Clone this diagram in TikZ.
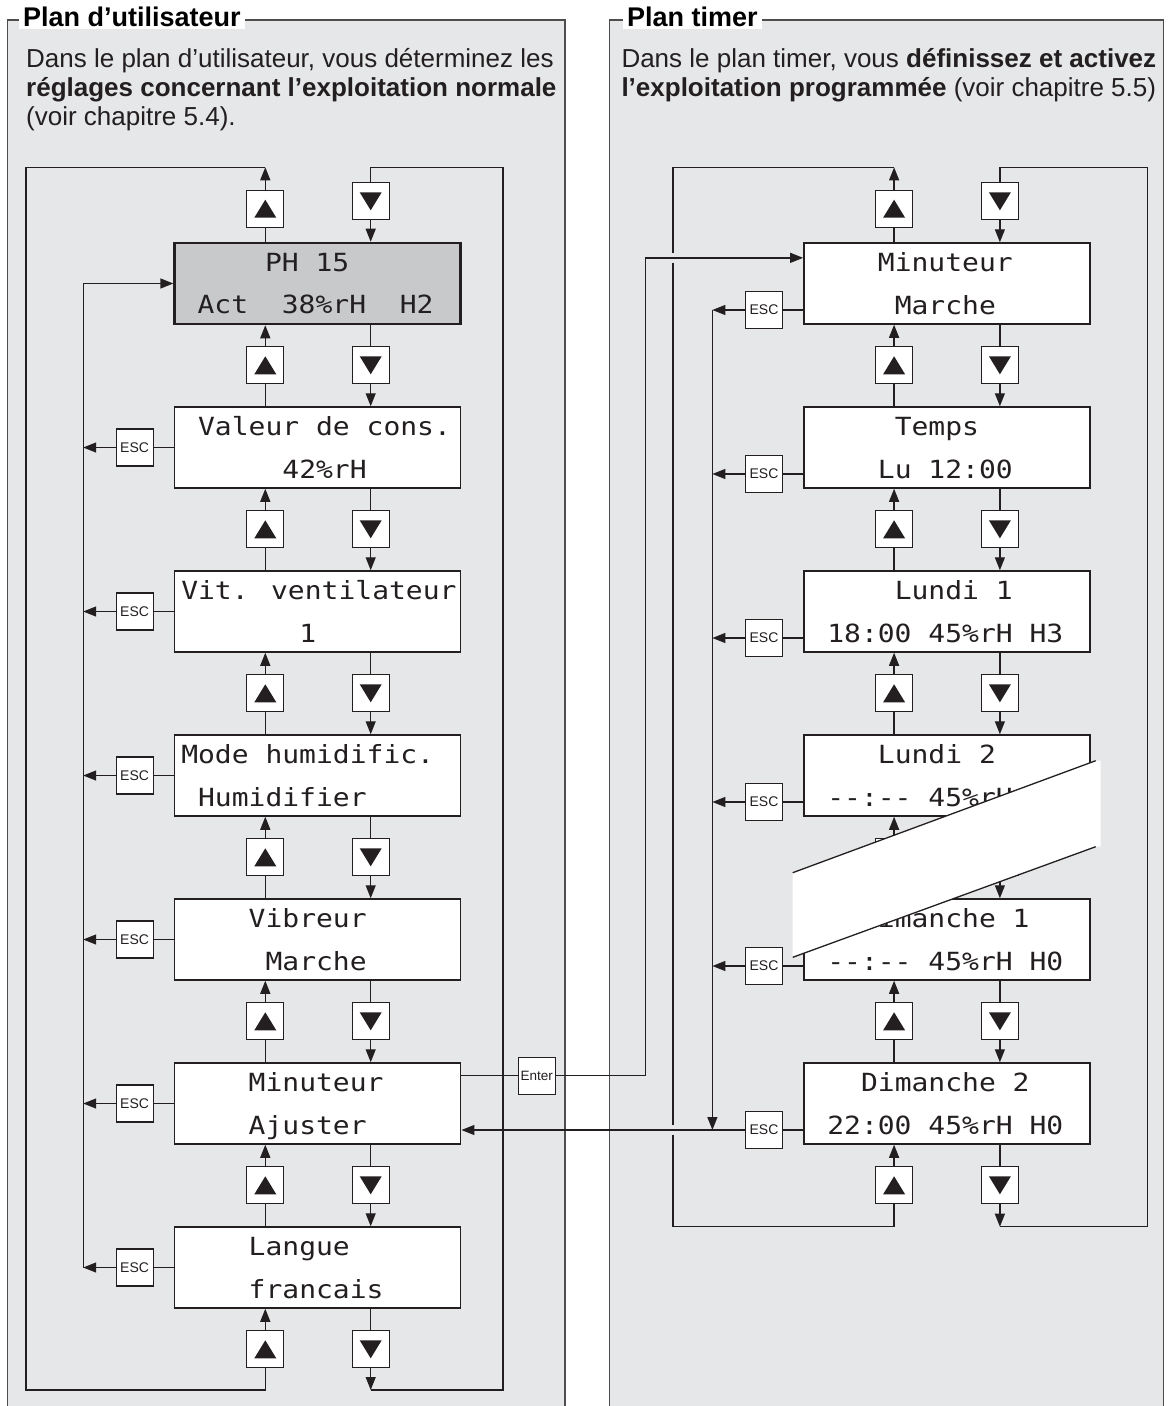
\documentclass[tikz,border=0pt]{standalone}
\usepackage{fontspec}
\setmainfont{Liberation Sans}
\newfontfamily\lcdfont[FakeStretch=1.12]{DejaVu Sans Mono}
\usetikzlibrary{arrows.meta}

\definecolor{panel}{HTML}{E6E7E8}
\definecolor{lcdgray}{HTML}{C8C9CB}
\definecolor{ink}{HTML}{231F20}
\def\dd{-\kern0pt-}

\tikzset{
  wire/.style={draw=ink,line width=1.3pt},
  arr/.style={wire,-{Triangle[length=13pt,width=10pt]}},
  frame/.style={draw=ink!80,line width=1.5pt},
  display/.style={draw=ink,fill=white,line width=1.5pt,minimum width=286pt,
    minimum height=81pt,inner sep=0pt},
  lcd/.style={font=\lcdfont\fontsize{25}{30}\selectfont,text=ink,inner sep=0pt,
    anchor=base west},
  keybox/.style={draw=ink,fill=white,line width=1.2pt,minimum size=37pt,inner sep=0pt},
  keyup/.style={keybox,path picture={
    \fill[ink] ([shift={(0,-9)}]path picture bounding box.center)
      -- ([shift={(11,9)}]path picture bounding box.center)
      -- ([shift={(-11,9)}]path picture bounding box.center) -- cycle;}},
  keydn/.style={keybox,path picture={
    \fill[ink] ([shift={(0,9)}]path picture bounding box.center)
      -- ([shift={(11,-9)}]path picture bounding box.center)
      -- ([shift={(-11,-9)}]path picture bounding box.center) -- cycle;}},
  esckey/.style={keybox,font=\fontsize{14}{14}\selectfont,text=ink},
  title/.style={fill=white,font=\fontsize{27}{30}\selectfont\bfseries,text=black,
    inner xsep=4pt,inner ysep=2.5pt,anchor=base west},
  body/.style={font=\fontsize{26}{28}\selectfont,text=ink,inner sep=0pt,anchor=base west}
}

\begin{document}
\begin{tikzpicture}[x=1pt,y=-1pt]
  \useasboundingbox (0,0) rectangle (1168,1406);

  % two panels
  \fill[panel] (7.4,20) rectangle (565,1406);
  \fill[panel] (609.3,20) rectangle (1163.5,1406);
  \draw[frame] (7.4,1406) -- (7.4,20) -- (565,20) -- (565,1406);
  \draw[frame] (609.3,1406) -- (609.3,20) -- (1163.5,20) -- (1163.5,1406);
  \node[title] (utitle) at (19,26.7) {Plan d’utilisateur};
  \node[title] (ttitle) at (623,26.7) {Plan timer};

  \node[body] (utext1) at (26,67.7) {Dans le plan d’utilisateur, vous déterminez les};
  \node[body] (utext2) at (26,96.4) {\bfseries réglages concernant l’exploitation normale};
  \node[body] (utext3) at (26,125) {(voir chapitre 5.4).};
  \node[body] (ttext1) at (621.3,67.7) {Dans le plan timer, vous \textbf{définissez et activez}};
  \node[body] (ttext2) at (621.3,96.4) {\textbf{l’exploitation programmée} (voir chapitre 5.5)};

  % displays
  \node[display,fill=lcdgray,line width=2.6pt] (u0) at (317.7,283.5) {};
  \foreach \i in {1,...,6}
    \node[display] (u\i) at (317.7,{283.5+164*\i}) {};
  \foreach \i in {0,...,5}
    \node[display] (t\i) at (946.9,{283.5+164*\i}) {};

  \foreach \i/\ca/\ta/\cb/\tb in {0/5/PH 15/1/Act~~38\%rH~~H2,
      1/1/Valeur de cons./6/42\%rH, 2/0/Vit. ventilateur/7/1,
      3/0/Mode humidific./1/Humidifier, 4/4/Vibreur/5/Marche,
      5/4/Minuteur/4/Ajuster, 6/4/Langue/4/francais} {
    \node[lcd] (u\i-l1) at ([shift={({7.1+\ca*16.86},29.5)}]u\i.north west) {\ta};
    \node[lcd] (u\i-l2) at ([shift={({7.1+\cb*16.86},72)}]u\i.north west) {\tb};
  }
  \foreach \i/\ca/\ta/\cb/\tb in {0/4/Minuteur/5/Marche, 1/5/Temps/4/Lu 12:00,
      2/5/Lundi 1/1/18:00 45\%rH H3, 3/4/Lundi 2/1/\dd:\dd{} 45\%rH H0,
      4/3/Dimanche 1/1/\dd:\dd{} 45\%rH H0, 5/3/Dimanche 2/1/22:00 45\%rH H0} {
    \node[lcd] (t\i-l1) at ([shift={({7.1+\ca*16.86},29.5)}]t\i.north west) {\ta};
    \node[lcd] (t\i-l2) at ([shift={({7.1+\cb*16.86},72)}]t\i.north west) {\tb};
  }

  % arrow keys
  \node[keyup] (uup0) at (265.3,208.7) {};
  \node[keydn] (udn0) at (370.7,201.3) {};
  \node[keyup] (tup0) at (894.1,208.7) {};
  \node[keydn] (tdn0) at (999.9,201.3) {};
  \foreach \r in {1,...,7} {
    \node[keyup] (uup\r) at (265.3,{201.3+164*\r}) {};
    \node[keydn] (udn\r) at (370.7,{201.3+164*\r}) {};
  }
  \foreach \r in {1,...,6} {
    \node[keyup] (tup\r) at (894.1,{201.3+164*\r}) {};
    \node[keydn] (tdn\r) at (999.9,{201.3+164*\r}) {};
  }

  % esc and enter keys
  \foreach \i in {1,...,6}
    \node[esckey] (uesc\i) at (134.6,{283.5+164*\i}) {ESC};
  \foreach \i in {0,...,5}
    \node[esckey] (tesc\i) at (764,{310+164*\i}) {ESC};
  \node[keybox,font=\fontsize{13.5}{14}\selectfont,text=ink] (enter) at (536.7,1075.7) {Enter};

  % corners of the loops
  \coordinate (ult) at (26,167.3);
  \coordinate (ulb) at (26,1390);
  \coordinate (urt) at (503,167.3);
  \coordinate (urb) at (503,1390);
  \coordinate (ucol) at (83.2,0);
  \coordinate (tlt) at (673,167.3);
  \coordinate (tlb) at (673,1226.7);
  \coordinate (trt) at (1147.7,167.3);
  \coordinate (trb) at (1147.7,1226.7);
  \coordinate (tcol) at (712.4,0);
  \coordinate (ecol) at (645.3,0);
  \coordinate (tin) at ([yshift=-15.6pt]t0.north west);

  % up and down between displays
  \foreach \r [evaluate=\r as \p using int(\r-1)] in {1,...,6} {
    \draw[wire] (u\r.north -| uup\r) -- (uup\r);
    \draw[arr] (uup\r) -- (u\p.south -| uup\r);
    \draw[wire] (u\p.south -| udn\r) -- (udn\r);
    \draw[arr] (udn\r) -- (u\r.north -| udn\r);
  }
  \foreach \r [evaluate=\r as \p using int(\r-1)] in {1,...,5} {
    \draw[wire] (t\r.north -| tup\r) -- (tup\r);
    \draw[arr] (tup\r) -- (t\p.south -| tup\r);
    \draw[wire] (t\p.south -| tdn\r) -- (tdn\r);
    \draw[arr] (tdn\r) -- (t\r.north -| tdn\r);
  }
  \draw[wire] (u0.north -| uup0) -- (uup0);
  \draw[arr] (udn0) -- (u0.north -| udn0);
  \draw[arr] (uup7) -- (u6.south -| uup7);
  \draw[wire] (u6.south -| udn7) -- (udn7);
  \draw[wire] (t0.north -| tup0) -- (tup0);
  \draw[arr] (tdn0) -- (t0.north -| tdn0);
  \draw[arr] (tup6) -- (t5.south -| tup6);
  \draw[wire] (t5.south -| tdn6) -- (tdn6);

  % wrap-around loops
  \draw[wire] (uup7) -- (uup7 |- ulb) -- (ulb) -- (ult) -- (uup0 |- ult);
  \draw[arr] (uup0) -- (uup0 |- ult);
  \draw[wire] (udn0) -- (udn0 |- urt) -- (urt) -- (urb) -- (udn7 |- urb);
  \draw[arr] (udn7) -- (udn7 |- urb);
  \draw[wire] (tup6) -- (tup6 |- tlb) -- (tlb) -- (tlt) -- (tup0 |- tlt);
  \draw[arr] (tup0) -- (tup0 |- tlt);
  \draw[wire] (tdn0) -- (tdn0 |- trt) -- (trt) -- (trb) -- (tdn6 |- trb);
  \draw[arr] (tdn6) -- (tdn6 |- trb);

  % escape paths
  \foreach \i in {1,...,6} {
    \draw[wire] (u\i.west) -- (uesc\i);
    \draw[arr] (uesc\i) -- (ucol |- uesc\i);
  }
  \draw[arr] (ucol |- uesc6) |- (u0.west);
  \foreach \i in {0,...,5}
    \draw[wire] (t\i.west |- tesc\i) -- (tesc\i);
  \foreach \i in {0,...,4}
    \draw[arr] (tesc\i) -- (tcol |- tesc\i);
  \draw[arr] (tcol |- tesc0) -- (tcol |- tesc5);

  % gaps where the timer loop is crossed
  \fill[panel] ([shift={(-4,-5)}]tlt |- tin) rectangle ([shift={(4,5)}]tlt |- tin);
  \fill[panel] ([shift={(-4,-5)}]tlt |- tesc5) rectangle ([shift={(4,5)}]tlt |- tesc5);

  % enter into the timer plan and back
  \draw[wire] (u5.east |- enter) -- (enter);
  \draw[arr] (enter) -- (ecol |- enter) |- (tin);
  \draw[arr] (tesc5) -- (u5.east |- tesc5);

  % cut between Lundi and Dimanche
  \fill[white] (792.7,872.7) -- (1095.7,760.7) -- (1100.5,760.7) -- (1100.5,846.7)
    -- (1095.7,846.7) -- (792.7,957.3) -- cycle;
  \draw[ink,line width=1.3pt] (792.7,872.7) -- (1095.7,760.7);
  \draw[ink,line width=1.3pt] (792.7,957.3) -- (1095.7,846.7);
\end{tikzpicture}
\end{document}
